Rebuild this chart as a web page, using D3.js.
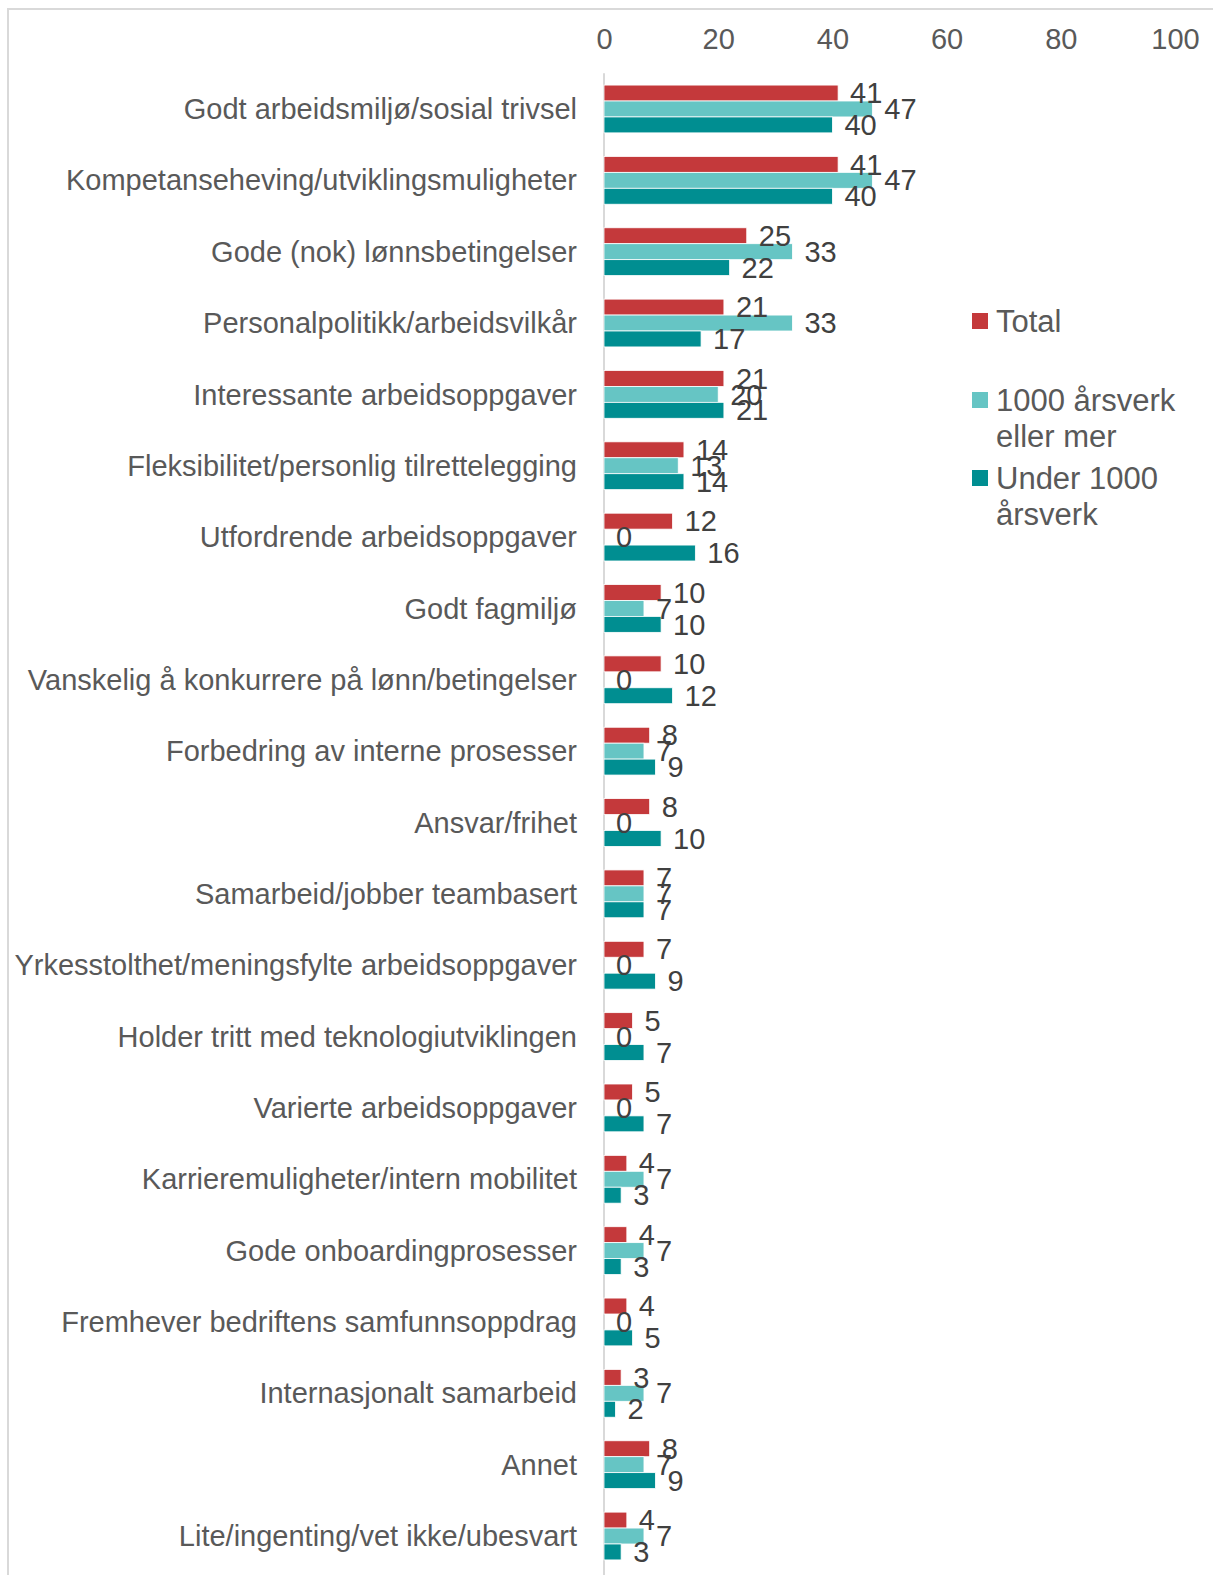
<!DOCTYPE html>
<html>
<head>
<meta charset="utf-8">
<script src="https://cdn.jsdelivr.net/npm/d3@7"></script>
<style>
  body { margin: 0; background: #fff; }
  svg { display: block; font-family: "Liberation Sans", Arial, sans-serif; }
</style>
</head>
<body>
<svg id="chart"></svg>
<script>
const CATEGORIES = [
  "Godt arbeidsmiljø/sosial trivsel",
  "Kompetanseheving/utviklingsmuligheter",
  "Gode (nok) lønnsbetingelser",
  "Personalpolitikk/arbeidsvilkår",
  "Interessante arbeidsoppgaver",
  "Fleksibilitet/personlig tilrettelegging",
  "Utfordrende arbeidsoppgaver",
  "Godt fagmiljø",
  "Vanskelig å konkurrere på lønn/betingelser",
  "Forbedring av interne prosesser",
  "Ansvar/frihet",
  "Samarbeid/jobber teambasert",
  "Yrkesstolthet/meningsfylte arbeidsoppgaver",
  "Holder tritt med teknologiutviklingen",
  "Varierte arbeidsoppgaver",
  "Karrieremuligheter/intern mobilitet",
  "Gode onboardingprosesser",
  "Fremhever bedriftens samfunnsoppdrag",
  "Internasjonalt samarbeid",
  "Annet",
  "Lite/ingenting/vet ikke/ubesvart"
];

const SERIES = ["Total", "1000 årsverk eller mer", "Under 1000 årsverk"];
const LEGEND_LINES = [["Total"], ["1000 årsverk", "eller mer"], ["Under 1000", "årsverk"]];
const COLORS = ["#c4393b", "#66c5c4", "#008e91"];

const TOTAL = [41, 41, 25, 21, 21, 14, 12, 10, 10, 8, 8, 7, 7, 5, 5, 4, 4, 4, 3, 8, 4];
const LARGE = [47, 47, 33, 33, 20, 13, 0, 7, 0, 7, 0, 7, 0, 0, 0, 7, 7, 0, 7, 7, 7];
const SMALL = [40, 40, 22, 17, 21, 14, 16, 10, 12, 9, 10, 7, 9, 7, 7, 3, 3, 5, 2, 9, 3];
const VALUES = [TOTAL, LARGE, SMALL];

const X_TICKS = [0, 20, 40, 60, 80, 100];

const W = 1213, H = 1575;
const X0 = 604, X1 = 1175;
const Y0 = 73.3, Y1 = 1571.7;
const FS = 29;

const svg = d3.select("#chart").attr("width", W).attr("height", H);

// outer frame
svg.append("rect")
  .attr("x", 8).attr("y", 9).attr("width", W + 20).attr("height", H + 20)
  .attr("fill", "none").attr("stroke", "#d9d9d9").attr("stroke-width", 2);

const x = d3.scaleLinear().domain([0, 100]).range([X0, X1]);
const y = d3.scaleBand().domain(CATEGORIES).range([Y0, Y1])
  .paddingInner(0.33).paddingOuter(0.165);
const ySub = d3.scaleBand().domain(SERIES).range([0, y.bandwidth()]);

// top axis, labels only
const ax = svg.append("g").attr("transform", "translate(0,49)")
  .call(d3.axisTop(x).tickValues(X_TICKS).tickSize(0).tickPadding(0));
ax.select(".domain").remove();
ax.selectAll("text")
  .attr("font-size", FS).attr("fill", "#595959")
  .attr("font-family", "Liberation Sans, Arial, sans-serif");

// vertical baseline
svg.append("line")
  .attr("x1", x(0)).attr("x2", x(0))
  .attr("y1", Y0).attr("y2", H)
  .attr("stroke", "#d9d9d9").attr("stroke-width", 2);

// category labels
svg.append("g").selectAll("text").data(CATEGORIES).join("text")
  .attr("x", 577)
  .attr("y", d => y(d) + y.bandwidth() / 2)
  .attr("dy", "0.35em")
  .attr("text-anchor", "end")
  .attr("font-size", FS)
  .attr("fill", "#595959")
  .text(d => d);

// bars
const rows = [];
CATEGORIES.forEach((c, i) => {
  SERIES.forEach((s, k) => {
    rows.push({ cat: c, series: s, k: k, v: VALUES[k][i] });
  });
});

svg.append("g").selectAll("rect").data(rows).join("rect")
  .attr("x", x(0))
  .attr("y", d => y(d.cat) + ySub(d.series))
  .attr("width", d => x(d.v) - x(0))
  .attr("height", ySub.bandwidth())
  .attr("fill", d => COLORS[d.k])
  .attr("stroke", "#fff")
  .attr("stroke-width", 0.8);

// value labels
svg.append("g").selectAll("text").data(rows).join("text")
  .attr("x", d => x(d.v) + 12)
  .attr("y", d => y(d.cat) + ySub(d.series) + ySub.bandwidth() / 2)
  .attr("dy", "0.35em")
  .attr("font-size", FS)
  .attr("fill", "#404040")
  .text(d => d.v);

// legend
const lg = svg.append("g").attr("transform", "translate(972,0)");
const LEG_Y = [321, 400, 478];
LEGEND_LINES.forEach((lines, k) => {
  lg.append("rect")
    .attr("x", 0).attr("y", LEG_Y[k] - 8)
    .attr("width", 16).attr("height", 16)
    .attr("fill", COLORS[k]);
  lines.forEach((t, j) => {
    lg.append("text")
      .attr("x", 24).attr("y", LEG_Y[k] + j * 36)
      .attr("dy", "0.35em")
      .attr("font-size", 31)
      .attr("fill", "#595959")
      .text(t);
  });
});
</script>
</body>
</html>
